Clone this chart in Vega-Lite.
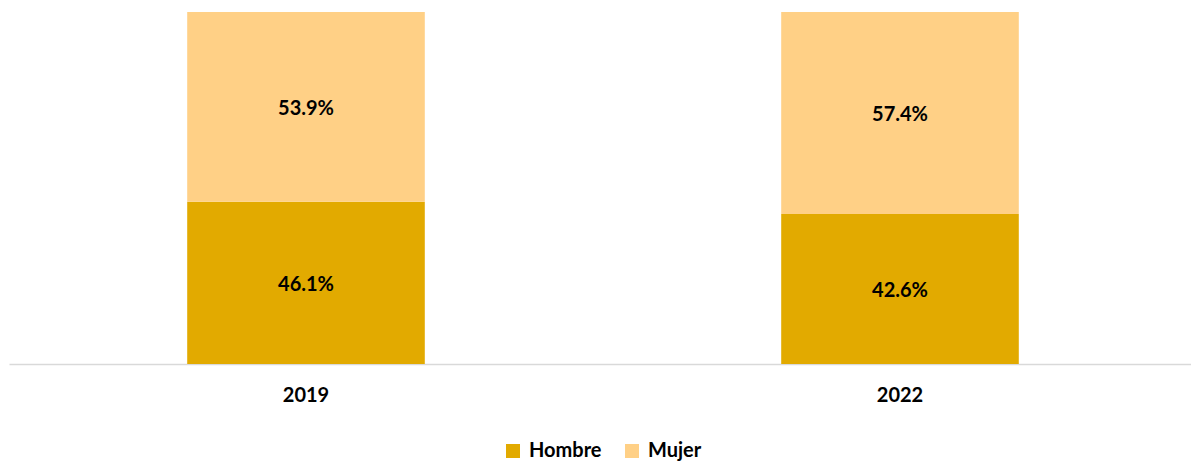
{
  "$schema": "https://vega.github.io/schema/vega-lite/v6.json",
  "autosize": "none",
  "width": 1188,
  "height": 352,
  "padding": {"left": 9, "top": 12, "right": 0, "bottom": 100},
  "background": "white",
  "config": {"view": {"stroke": null}, "font": "Lato"},
  "data": {"values": [
    {"year": "2019", "sexo": "Hombre", "pct": 46.1},
    {"year": "2019", "sexo": "Mujer", "pct": 53.9},
    {"year": "2022", "sexo": "Hombre", "pct": 42.6},
    {"year": "2022", "sexo": "Mujer", "pct": 57.4}
  ]},
  "transform": [
    {"calculate": "datum.sexo === 'Hombre' ? 0 : 1", "as": "ord"},
    {"stack": "pct", "groupby": ["year"], "sort": [{"field": "ord", "order": "ascending"}], "as": ["y0", "y1"]},
    {"calculate": "(datum.y0 + datum.y1) / 2", "as": "ymid"},
    {"calculate": "format(datum.pct, '.1f') + '%'", "as": "label"}
  ],
  "encoding": {
    "x": {
      "field": "year", "type": "nominal",
      "scale": {"paddingInner": 0.6, "paddingOuter": 0.3},
      "axis": {"title": null, "labelAngle": 0, "labelFont": "Lato", "labelFontWeight": "bold", "labelFontSize": 20, "labelColor": "#000000", "labelPadding": 21, "ticks": false, "domainColor": "#D9D9D9", "domainWidth": 1.5}
    }
  },
  "layer": [
    {
      "mark": {"type": "bar"},
      "encoding": {
        "y": {"field": "y0", "type": "quantitative", "scale": {"domain": [0, 100], "nice": false}, "axis": null},
        "y2": {"field": "y1"},
        "color": {
          "field": "sexo", "type": "nominal",
          "scale": {"domain": ["Hombre", "Mujer"], "range": ["#E2AA00", "#FFD086"]},
          "legend": {"title": null, "orient": "none", "legendX": 494, "legendY": 429, "direction": "horizontal", "symbolType": "square", "symbolSize": 196, "symbolStrokeWidth": 0, "labelFont": "Lato", "labelFontWeight": "bold", "labelFontSize": 20, "labelColor": "#000000", "columnPadding": 20, "labelOffset": 6}
        }
      }
    },
    {
      "mark": {"type": "text", "font": "Lato", "fontWeight": "bold", "fontSize": 20, "color": "#000000", "baseline": "middle", "dy": 2},
      "encoding": {
        "y": {"field": "ymid", "type": "quantitative"},
        "text": {"field": "label", "type": "nominal"},
        "detail": {"field": "sexo"}
      }
    }
  ]
}
